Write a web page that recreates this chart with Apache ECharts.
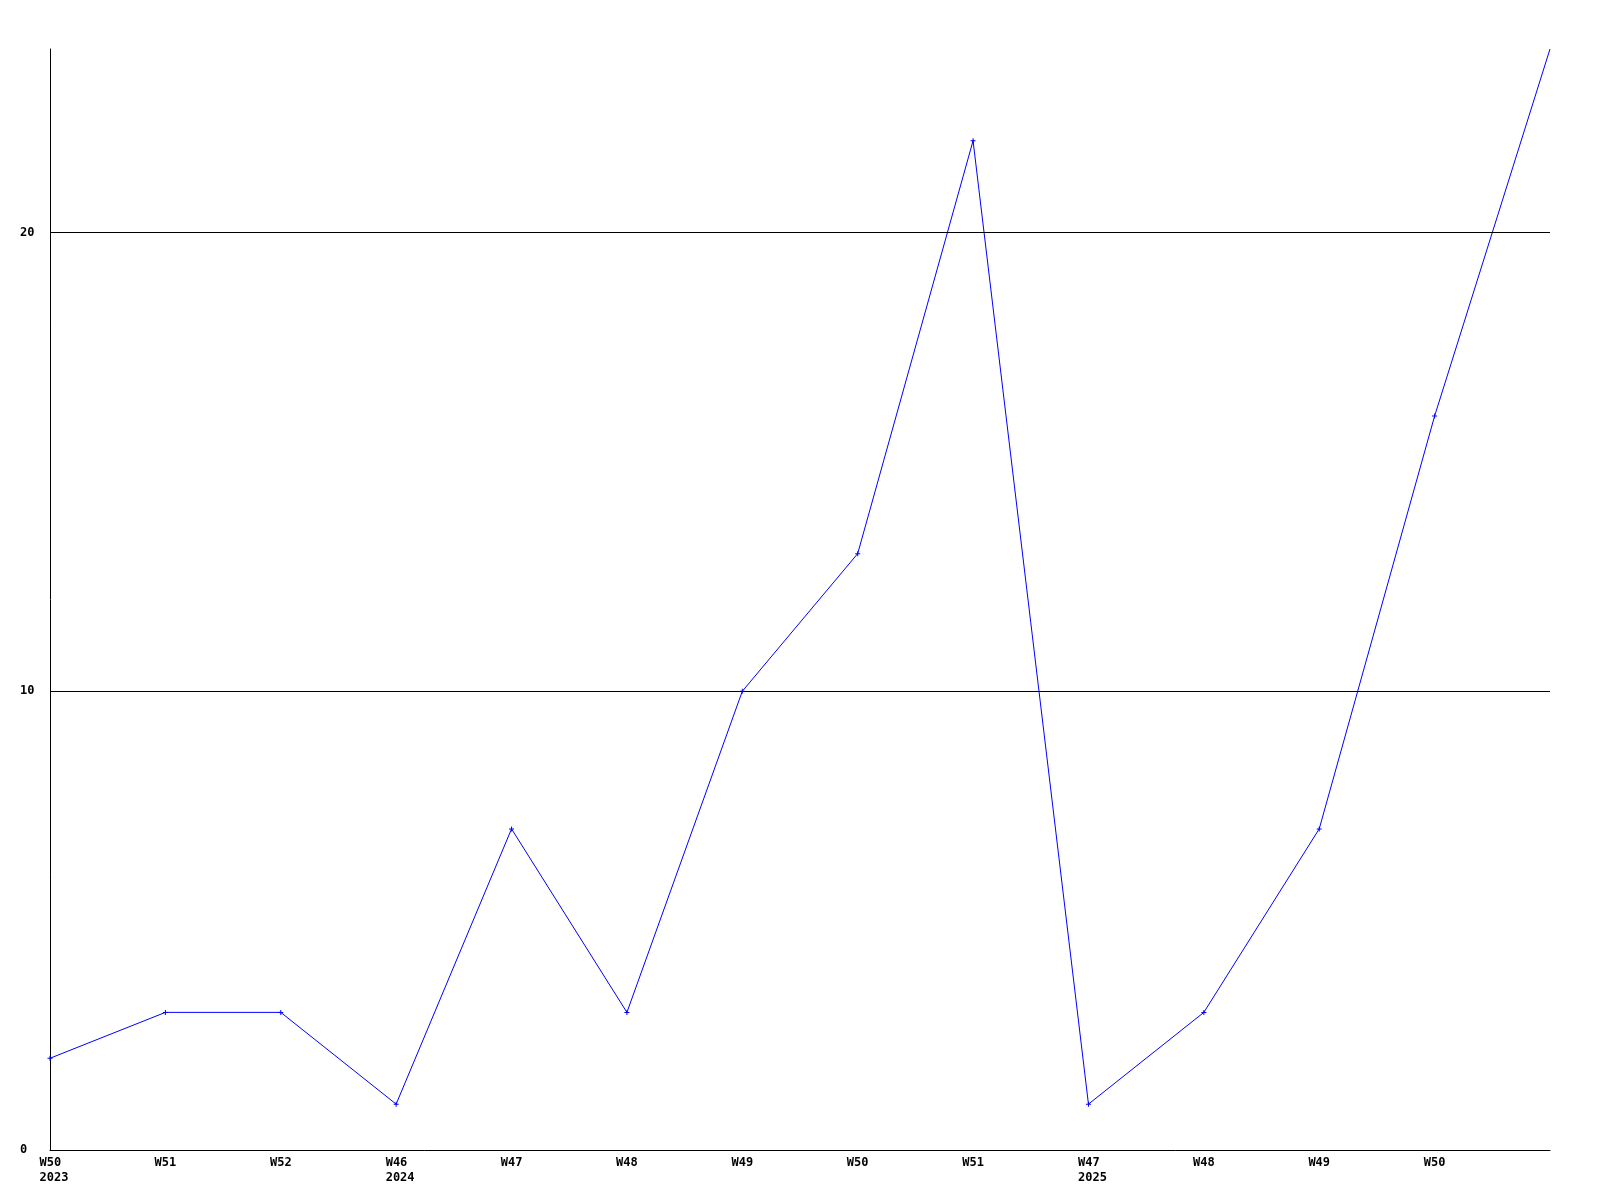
<!DOCTYPE html>
<html>
<head>
<meta charset="utf-8">
<script src="https://cdn.jsdelivr.net/npm/echarts@6/dist/echarts.min.js"></script>
<style>html,body{margin:0;padding:0;background:#fff}#c{width:1600px;height:1200px}</style>
</head>
<body>
<div id="c"></div>
<script>
const weeks = ['W50','W51','W52','W46','W47','W48','W49','W50','W51','W47','W48','W49','W50',''];
const years = ['2023','','','2024','','','','','','2025','','','',''];
const counts = [2,3,3,1,7,3,10,13,22,1,3,7,16,24];
const yTicks = [0,10,20];
const yMax = 24;

const categories = weeks.map((w,i)=> years[i] ? w + '\n' + years[i] : w);
const font = '"DejaVu Sans Mono", monospace';
const chart = echarts.init(document.getElementById('c'));
chart.setOption({
  animation:false,
  backgroundColor:'#ffffff',
  grid:{left:50,right:50,top:49,bottom:50},
  xAxis:{
    type:'category',
    data:categories,
    boundaryGap:false,
    axisLine:{lineStyle:{color:'#000',width:1}},
    axisTick:{show:false},
    splitLine:{show:false},
    axisLabel:{
      interval:0,
      margin:5,
      color:'#000',
      fontFamily:font,
      fontWeight:'bold',
      fontSize:12,
      lineHeight:15,
      formatter:function(v){
        const p=v.split('\n');
        if(p.length>1) return '{w|'+p[0]+'}\n{w|'+p[1]+'}';
        return p[0];
      },
      rich:{w:{width:21,align:'left',fontFamily:font,fontWeight:'bold',fontSize:12,lineHeight:15,color:'#000'}}
    }
  },
  yAxis:{
    type:'value',
    min:0,max:yMax,interval:10,
    axisLine:{show:true,lineStyle:{color:'#000',width:1}},
    axisTick:{show:false},
    splitLine:{show:false},
    axisLabel:{
      showMaxLabel:false,
      align:'left',margin:30,color:'#000',
      fontFamily:font,fontWeight:'bold',fontSize:12,
      padding:[4,0,0,0],
      formatter:function(v){return yTicks.indexOf(v)>=0? String(v):'';}
    }
  },
  series:[{
    type:'line',
    data:counts.map((v,i)=> i===counts.length-1 ? {value:v,symbol:'none'} : v),
    lineStyle:{color:'#0000ff',width:1},
    itemStyle:{color:'#0000ff'},
    symbol:'path://M2,0H3V2H5V3H3V5H2V3H0V2H2Z',
    symbolSize:5,
    showAllSymbol:true,
    clip:false,
    markLine:{
      silent:true,symbol:'none',label:{show:false},
      lineStyle:{color:'#000',width:1,type:'solid'},
      data:yTicks.filter(t=>t>0).map(t=>({yAxis:t}))
    },
    z:3
  }]
});
</script>
</body>
</html>
